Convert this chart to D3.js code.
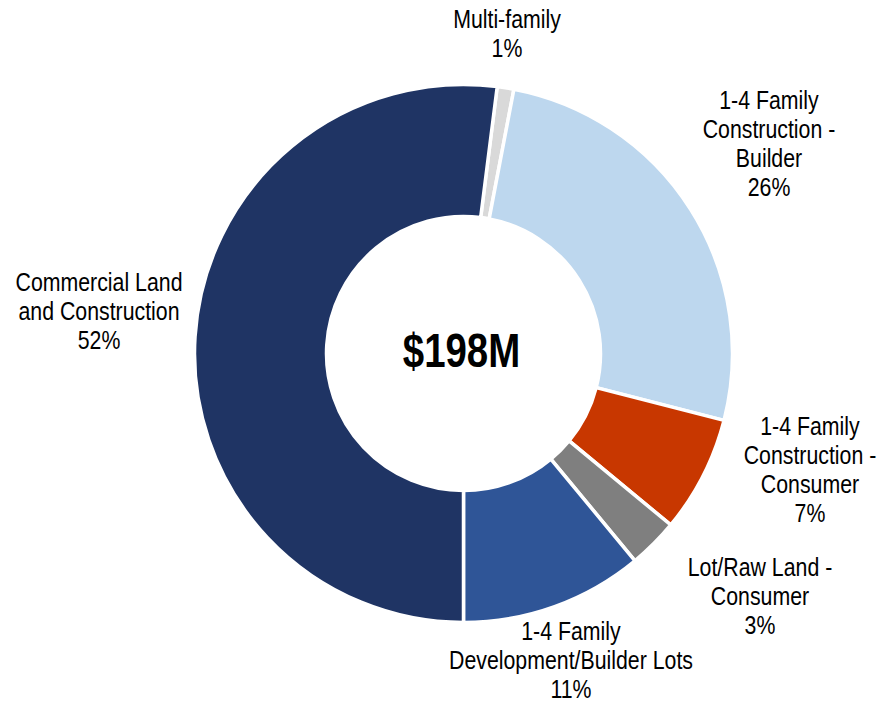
<!DOCTYPE html>
<html>
<head>
<meta charset="utf-8">
<script src="https://cdn.jsdelivr.net/npm/d3@7"></script>
<style>
  body { margin: 0; background: #fff; }
  text { font-family: "Liberation Sans", Arial, sans-serif; fill: #000; }
</style>
</head>
<body>
<script>
// slices, clockwise from where Commercial ends (just past 12 o'clock)
var categories = ["Multi-family", "1-4 Family Construction - Builder", "1-4 Family Construction - Consumer",
                  "Lot/Raw Land - Consumer", "1-4 Family Development/Builder Lots", "Commercial Land and Construction"];
var values = [1, 26, 7, 3, 11, 52];
var colors = ["#D9D9D9", "#BDD7EE", "#C83700", "#7F7F7F", "#2F5597", "#1F3464"];
// label lines as shown on the chart
var labelLines = [
  ["Multi-family", "1%"],
  ["1-4 Family", "Construction -", "Builder", "26%"],
  ["1-4 Family", "Construction -", "Consumer", "7%"],
  ["Lot/Raw Land -", "Consumer", "3%"],
  ["1-4 Family", "Development/Builder Lots", "11%"],
  ["Commercial Land", "and Construction", "52%"]
];
var total = "$198M";

var width = 878, height = 705;
var cx = 463.5, cy = 353.5,
    outerR = 269, innerR = 137;

// label anchor (center x, first baseline)
var labelPos = [[507, 28], [769, 109], [810, 435], [760, 576], [571, 640], [99, 291]];
var lineH = 29;
var narrow = 0.82; // no narrow font installed, squeeze the regular one

var svg = d3.select("body").append("svg")
    .attr("width", width)
    .attr("height", height);

var g = svg.append("g")
    .attr("transform", "translate(" + cx + "," + cy + ")");

var sum = d3.sum(values);
// Commercial ends at 180 + 52% of the circle
var start = Math.PI * 2 * (values[5] / sum) - Math.PI;

var pie = d3.pie()
    .sort(null)
    .value(function(d) { return d; })
    .startAngle(start)
    .endAngle(start + Math.PI * 2);

var arc = d3.arc()
    .innerRadius(innerR)
    .outerRadius(outerR);

g.selectAll("path")
  .data(pie(values))
  .enter().append("path")
  .attr("d", arc)
  .style("fill", function(d, i) { return colors[i]; })
  .style("stroke", "#fff")
  .style("stroke-width", 3.5);

// category labels
labelLines.forEach(function(lines, i) {
  var t = svg.append("text")
    .attr("transform", "translate(" + labelPos[i][0] + ",0) scale(" + narrow + ",1)")
    .attr("text-anchor", "middle")
    .style("font-size", "26px");
  lines.forEach(function(l, j) {
    t.append("tspan")
      .attr("x", 0)
      .attr("y", labelPos[i][1] + j * lineH)
      .text(l);
  });
});

// total in the hole
svg.append("text")
  .attr("transform", "translate(" + (cx - 2) + ",367) scale(0.8,1)")
  .attr("text-anchor", "middle")
  .style("font-size", "48px")
  .style("font-weight", "bold")
  .text(total);
</script>
</body>
</html>
